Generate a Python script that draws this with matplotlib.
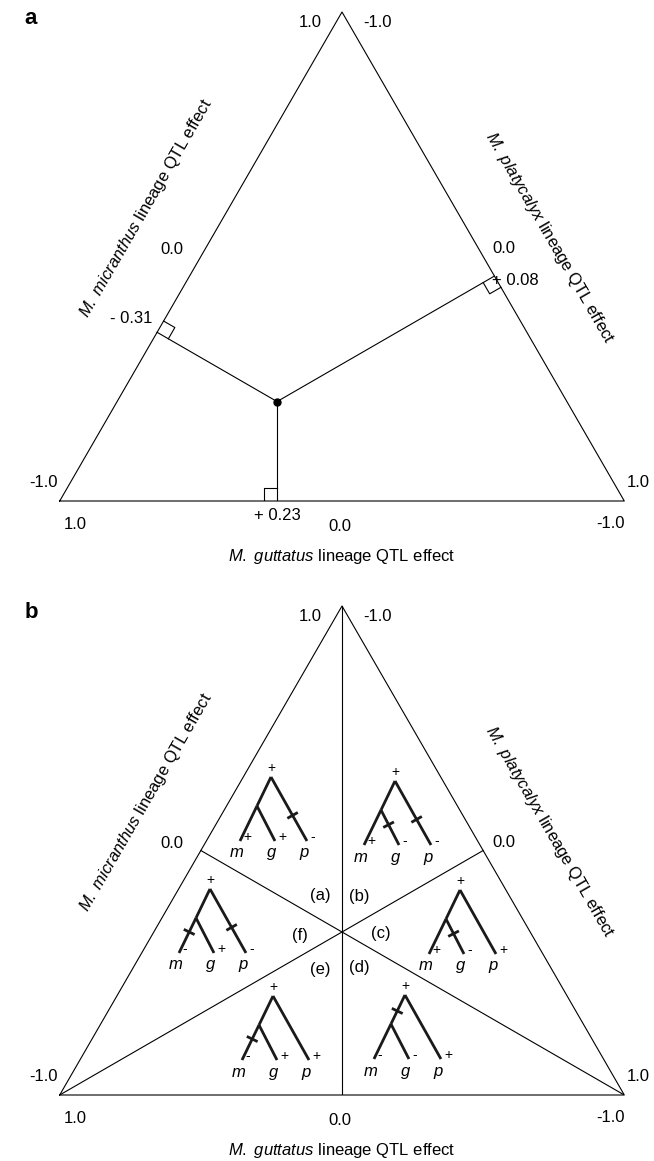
## ternary diagram of lineage QTL effects (panels a and b)
import numpy as np
import matplotlib.pyplot as plt

plt.rcParams['font.family'] = ['Liberation Sans', 'DejaVu Sans']
plt.rcParams['mathtext.fontset'] = 'custom'
plt.rcParams['mathtext.it'] = 'Liberation Sans:italic'
plt.rcParams['mathtext.rm'] = 'Liberation Sans'

## data for panel a
m_effect = -0.31   # M. micranthus lineage
g_effect = 0.23    # M. guttatus lineage
p_effect = 0.08    # M. platycalyx lineage
effect_labels = ['- 0.31', '+ 0.23', '+ 0.08']

## axis end labels
end_hi, end_mid, end_lo = '1.0', '0.0', '-1.0'

## data for panel b: one tree per sector
sector_names = ['(a)', '(b)', '(c)', '(d)', '(e)', '(f)']
m_sign = ['+', '+', '+', '-', '-', '-']
g_sign = ['+', '-', '-', '-', '+', '+']
p_sign = ['-', '-', '+', '+', '+', '-']
changes = [['p'], ['g', 'p'], ['g'], ['mg'], ['m'], ['m', 'p']]

## geometry
H = np.sqrt(3) / 2
A = np.array([0.5, H])
B = np.array([0.0, 0.0])
C = np.array([1.0, 0.0])
PX = 1 / 564.6          # one pixel in data units
LW = 0.8
FS = 12

fig = plt.figure(figsize=(6.54, 11.61), dpi=100)
ax_a = fig.add_axes([59.7 / 654, (1161 - 501) / 1161, 564.6 / 654, 489 / 1161])
ax_b = fig.add_axes([59.7 / 654, (1161 - 1095) / 1161, 564.6 / 654, 489 / 1161])


def frame(ax, letter):
    ax.set_xlim(0, 1)
    ax.set_ylim(0, H)
    ax.axis('off')
    ax.plot([B[0], C[0], A[0], B[0]], [B[1], C[1], A[1], B[1]], color='k', lw=LW, clip_on=False)
    ax.text(-0.051, 0.854, letter, fontsize=16, fontweight='bold', ha='center', va='center')
    ax.text(0.465, H - 0.018, end_hi, fontsize=FS, ha='right', va='center')
    ax.text(0.537, H - 0.018, end_lo, fontsize=FS, ha='left', va='center')
    ax.text(0.219, 0.445, end_mid, fontsize=FS, ha='right', va='center')
    ax.text(0.766, 0.448, end_mid, fontsize=FS, ha='left', va='center')
    ax.text(-0.003, 0.032, end_lo, fontsize=FS, ha='right', va='center')
    ax.text(1.005, 0.032, end_hi, fontsize=FS, ha='left', va='center')
    ax.text(0.027, -0.041, end_hi, fontsize=FS, ha='center', va='center')
    ax.text(0.4965, -0.046, end_mid, fontsize=FS, ha='center', va='center')
    ax.text(0.975, -0.039, end_lo, fontsize=FS, ha='center', va='center')
    ax.text(0.5, -0.099, r'$\mathit{M.\ guttatus}$ lineage QTL effect', fontsize=FS,
            ha='center', va='center')
    ax.text(0.153, 0.519, r'$\mathit{M.\ micranthus}$ lineage QTL effect', fontsize=FS,
            ha='center', va='center', rotation=60)
    ax.text(0.868, 0.466, r'$\mathit{M.\ platycalyx}$ lineage QTL effect', fontsize=FS,
            ha='center', va='center', rotation=-60)


frame(ax_a, 'a')
frame(ax_b, 'b')

## panel a: the point and its perpendicular feet
u_left = (A - B)
u_right = (C - A)
M = np.array([[1.0, 0.0], u_left, u_right])
rhs = np.array([(1 - g_effect) / 2, (m_effect + 1) / 2, (p_effect + 1) / 2 + A @ u_right])
P = np.linalg.lstsq(M, rhs, rcond=None)[0]

foot_g = np.array([(1 - g_effect) / 2, 0.0])
foot_m = B + (m_effect + 1) / 2 * u_left
foot_p = A + (p_effect + 1) / 2 * u_right

sq = 13 * PX
for foot, along in [(foot_g, np.array([-1.0, 0.0])), (foot_m, u_left), (foot_p, u_right)]:
    ax_a.plot([foot[0], P[0]], [foot[1], P[1]], color='k', lw=LW)
    n = (P - foot) / np.linalg.norm(P - foot)
    c1, c2, c3 = foot + sq * along, foot + sq * along + sq * n, foot + sq * n
    ax_a.plot([c1[0], c2[0], c3[0]], [c1[1], c2[1], c3[1]], color='k', lw=LW)
ax_a.plot(P[0], P[1], 'o', color='k', markersize=5)

ax_a.text(foot_m[0] - 5 * PX, foot_m[1] + 14 * PX, effect_labels[0], fontsize=FS, ha='right', va='center')
ax_a.text(foot_g[0], foot_g[1] - 14 * PX, effect_labels[1], fontsize=FS, ha='center', va='center')
ax_a.text(foot_p[0] - 2 * PX, foot_p[1] - 4 * PX, effect_labels[2], fontsize=FS, ha='left', va='center')

## panel b: sector lines
mid_left = (A + B) / 2
mid_right = (A + C) / 2
ax_b.plot([A[0], 0.5], [A[1], 0.0], color='k', lw=LW)
ax_b.plot([B[0], mid_right[0]], [B[1], mid_right[1]], color='k', lw=LW)
ax_b.plot([C[0], mid_left[0]], [C[1], mid_left[1]], color='k', lw=LW)

## tree roots and sector label spots (a..f)
tree_x = [0.3742, 0.5939, 0.7090, 0.6115, 0.3778, 0.2662]
tree_y = [0.5632, 0.5561, 0.3631, 0.1771, 0.1753, 0.3649]
label_dx = [-0.039, 0.031, 0.068, 0.031, -0.039, -0.074]
label_dy = [0.064, 0.062, -0.002, -0.062, -0.066, -0.007]
centroid = np.array([0.5, H / 3])

tick_frac = {'m': 0.4, 'g': 0.42, 'p': 0.6, 'mg': 0.55}


def draw_tree(ax, x0, y0, ms, gs, ps, marks):
    root = np.array([x0, y0])
    node = root + np.array([-14, -29]) * PX
    leaf = {'m': root + np.array([-31, -64]) * PX,
            'g': root + np.array([4, -64]) * PX,
            'p': root + np.array([36, -64]) * PX}
    branch = {'mg': (root, node), 'm': (node, leaf['m']),
              'g': (node, leaf['g']), 'p': (root, leaf['p'])}
    for s, e in branch.values():
        ax.plot([s[0], e[0]], [s[1], e[1]], color='#1a1a1a', lw=2.0, solid_capstyle='butt')
    for key in marks:
        s, e = branch[key]
        d = (e - s) / np.linalg.norm(e - s)
        n = np.array([-d[1], d[0]])
        c = s + tick_frac[key] * (e - s)
        t1, t2 = c + 6 * PX * n, c - 6 * PX * n
        ax.plot([t1[0], t2[0]], [t1[1], t2[1]], color='#1a1a1a', lw=2.0, solid_capstyle='butt')
    ax.text(root[0], root[1] + 9 * PX, '+', fontsize=10, ha='center', va='center')
    for name, sign in zip(['m', 'g', 'p'], [ms, gs, ps]):
        lf = leaf[name]
        ax.text(lf[0] + 3 * PX, lf[1] + 4 * PX, sign, fontsize=10, ha='left', va='center')
        ax.text(lf[0] - 3 * PX, lf[1] - 12 * PX, name, fontsize=FS, style='italic',
                ha='center', va='center')


for i, name in enumerate(sector_names):
    draw_tree(ax_b, tree_x[i], tree_y[i], m_sign[i], g_sign[i], p_sign[i], changes[i])
    ax_b.text(centroid[0] + label_dx[i], centroid[1] + label_dy[i], name, fontsize=FS,
              ha='center', va='center')

fig.savefig('out.png', dpi=100)
